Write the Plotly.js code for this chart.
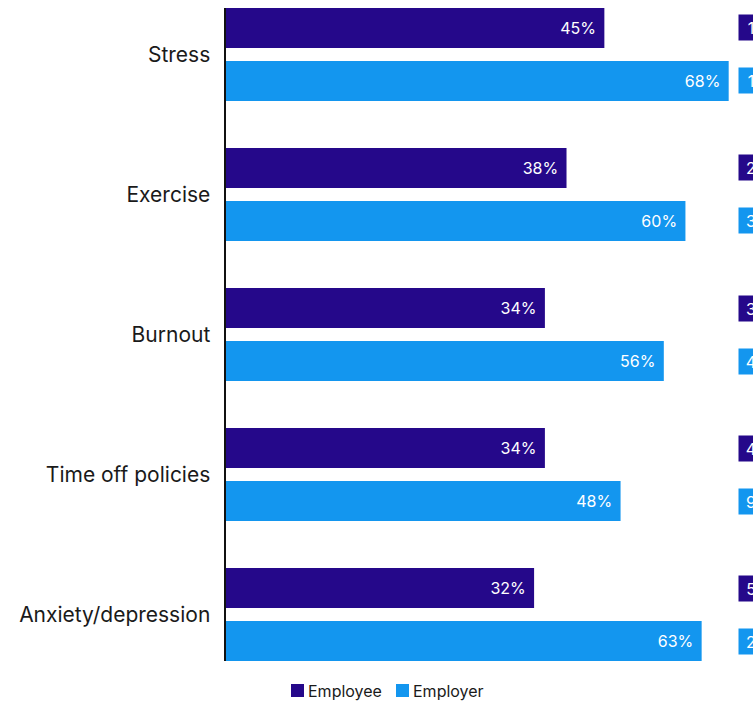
<!DOCTYPE html>
<html>
<head>
<meta charset="utf-8">
<script src="https://cdn.plot.ly/plotly-3.0.1.min.js"></script>
<style>
  html, body { margin: 0; padding: 0; background: #ffffff; }
  #chart { width: 753px; height: 701px; }
</style>
</head>
<body>
<div id="chart"></div>
<script>
// Wellbeing topics, employee vs employer share (%)
const topics = ["Stress", "Exercise", "Burnout", "Time off policies", "Anxiety/depression"];
const employeeValues = [45, 38, 34, 34, 32];
const employerValues = [68, 60, 56, 48, 63];
// Rank of each topic within each group
const employeeRanks = ["1", "2", "3", "4", "5"];
const employerRanks = ["1", "3", "4", "9", "2"];
const seriesNames = ["Employee", "Employer"];

const employeeColor = "#25088a";
const employerColor = "#1396ef";
const axisStart = -25;

const W = 753, H = 701;
const M = { l: 226, r: 18, t: 8, b: 40 };
const plotW = W - M.l - M.r, plotH = H - M.t - M.b;
// pixel -> paper helpers for the hand-placed legend
const px = x => (x - M.l) / plotW;
const py = y => (H - M.b - y) / plotH;

const pct = v => v + "%\u2004";

const traces = [
  {
    type: "bar", orientation: "h", name: seriesNames[0],
    y: topics, x: employeeValues.map(v => v - axisStart), base: axisStart,
    text: employeeValues.map(pct),
    textposition: "inside", insidetextanchor: "end",
    textfont: { family: "Inter, sans-serif", size: 16, color: "#ffffff" },
    marker: { color: employeeColor },
    hoverinfo: "skip"
  },
  {
    type: "bar", orientation: "h", name: seriesNames[1],
    y: topics, x: employerValues.map(v => v - axisStart), base: axisStart,
    text: employerValues.map(pct),
    textposition: "inside", insidetextanchor: "end",
    textfont: { family: "Inter, sans-serif", size: 16, color: "#ffffff" },
    marker: { color: employerColor },
    hoverinfo: "skip"
  }
];

const rankBox = (label, topic, shift, color) => ({
  xref: "paper", yref: "y", x: px(738), y: topic, xanchor: "left", yanchor: "middle",
  yshift: shift, text: label, showarrow: false, width: 18, height: 19, align: "center",
  font: { family: "Inter, sans-serif", size: 16, color: "#ffffff" },
  bgcolor: color, borderpad: 3
});

const annotations = [];
topics.forEach((t, i) => {
  annotations.push(rankBox(employeeRanks[i], t, 26.5, employeeColor));
  annotations.push(rankBox(employerRanks[i], t, -26.5, employerColor));
});

// legend: colour square + label
const legendItems = [
  { name: seriesNames[0], color: employeeColor, x0: 291 },
  { name: seriesNames[1], color: employerColor, x0: 396 }
];
const shapes = [];
legendItems.forEach(item => {
  shapes.push({
    type: "rect", xref: "paper", yref: "paper",
    x0: px(item.x0), x1: px(item.x0 + 13), y0: py(697), y1: py(684),
    fillcolor: item.color, line: { width: 0 }
  });
  annotations.push({
    xref: "paper", yref: "paper", x: px(item.x0 + 15), y: py(690.5),
    xanchor: "left", yanchor: "middle", showarrow: false, text: item.name,
    font: { family: "Inter, sans-serif", size: 16, color: "#1a1a1a" }
  });
});

const layout = {
  width: W, height: H,
  margin: M,
  paper_bgcolor: "#ffffff", plot_bgcolor: "#ffffff",
  barmode: "group", bargap: 0.243, bargroupgap: 0.245,
  font: { family: "Inter, sans-serif", color: "#1a1a1a" },
  xaxis: {
    range: [axisStart, 69.17], showgrid: false, zeroline: false,
    showticklabels: false, ticks: "", fixedrange: true
  },
  yaxis: {
    type: "category", range: [4.332, -0.332],
    showgrid: false, zeroline: false, ticks: "",
    showline: true, linecolor: "#111111", linewidth: 2.5,
    ticklabelstandoff: 9,
    tickfont: { family: "Inter, sans-serif", size: 21, color: "#1a1a1a" }
  },
  showlegend: false,
  shapes: shapes,
  annotations: annotations
};

Plotly.newPlot("chart", traces, layout, { displayModeBar: false, staticPlot: true });
</script>
</body>
</html>
